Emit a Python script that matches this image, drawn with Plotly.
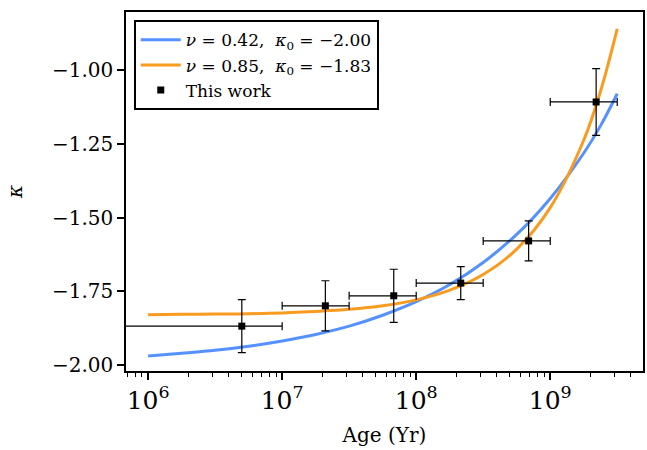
import plotly.graph_objects as go

# ---- data ----
age = [5.0e6, 2.1e7, 6.8e7, 2.15e8, 6.9e8, 2.2e9]
kappa = [-1.868, -1.799, -1.765, -1.722, -1.579, -1.108]
kappa_err = [0.090, 0.085, 0.090, 0.056, 0.068, 0.113]
age_err_minus = [4.99e6, 1.1e7, 3.64e7, 1.15e8, 3.74e8, 1.2e9]
age_err_plus = [5.0e6, 1.06e7, 3.2e7, 1.01e8, 3.1e8, 0.96e9]

curve_age = [1.0e6, 1.78e6, 3.16e6, 5.62e6, 1.0e7, 1.78e7, 3.16e7, 5.62e7,
             1.0e8, 1.78e8, 3.16e8, 5.62e8, 1.0e9, 1.78e9, 2.37e9, 3.16e9]
kappa_blue = [-1.969, -1.960, -1.950, -1.936, -1.918, -1.896, -1.868, -1.831,
              -1.785, -1.727, -1.652, -1.557, -1.435, -1.281, -1.189, -1.080]
kappa_orange = [-1.829, -1.828, -1.827, -1.826, -1.823, -1.818, -1.811, -1.799,
                -1.779, -1.746, -1.693, -1.607, -1.466, -1.237, -1.072, -0.860]

label_blue = "<i>ν</i> = 0.42,  <i>κ</i><sub>0</sub> = −2.00"
label_orange = "<i>ν</i> = 0.85,  <i>κ</i><sub>0</sub> = −1.83"
label_data = "This work"

y_ticks = [-2.00, -1.75, -1.50, -1.25, -1.00]

FONT = "DejaVu Serif"

fig = go.Figure()
fig.add_trace(go.Scatter(x=curve_age, y=kappa_blue, mode="lines", name=label_blue,
                         line=dict(color="#5591ff", width=3, shape="spline")))
fig.add_trace(go.Scatter(x=curve_age, y=kappa_orange, mode="lines", name=label_orange,
                         line=dict(color="#f99b1e", width=3, shape="spline")))
fig.add_trace(go.Scatter(
    x=age, y=kappa, mode="markers", name=label_data,
    marker=dict(symbol="square", size=7, color="black"),
    error_y=dict(type="data", array=kappa_err, color="black", thickness=1.2, width=4),
    error_x=dict(type="data", array=age_err_plus, arrayminus=age_err_minus,
                 color="black", thickness=1.2, width=4),
))

fig.update_layout(
    width=647, height=450,
    margin=dict(l=126, r=2, t=12, b=79),
    plot_bgcolor="white", paper_bgcolor="white",
    font=dict(family=FONT, size=20, color="black"),
    showlegend=True,
    legend=dict(x=0.015, y=0.977, xanchor="left", yanchor="top",
                bgcolor="white", bordercolor="black", borderwidth=2,
                font=dict(family=FONT, size=17), tracegroupgap=0,
                itemwidth=40),
)
fig.update_xaxes(
    type="log", range=[5.835, 9.692],
    dtick=1, exponentformat="power", showexponent="all",
    ticks="outside", ticklen=7, tickwidth=1.5, tickcolor="black",
    minor=dict(ticks="outside", ticklen=4, tickwidth=1, tickcolor="black", dtick="D1", showgrid=False),
    showline=True, linecolor="black", linewidth=1.5, mirror=True,
    showgrid=False, zeroline=False,
    title=dict(text="Age (Yr)", font=dict(family=FONT, size=20), standoff=14),
    tickfont=dict(family=FONT, size=20),
)
fig.update_yaxes(
    range=[-2.02, -0.803],
    tickvals=y_ticks, tickformat=".2f",
    ticks="outside", ticklen=7, tickwidth=1.5, tickcolor="black",
    showline=True, linecolor="black", linewidth=1.5, mirror=True,
    showgrid=False, zeroline=False,
    title=dict(text="<i>κ</i>", font=dict(family=FONT, size=20), standoff=24),
    tickfont=dict(family=FONT, size=20),
)

fig.write_html("out.html")
